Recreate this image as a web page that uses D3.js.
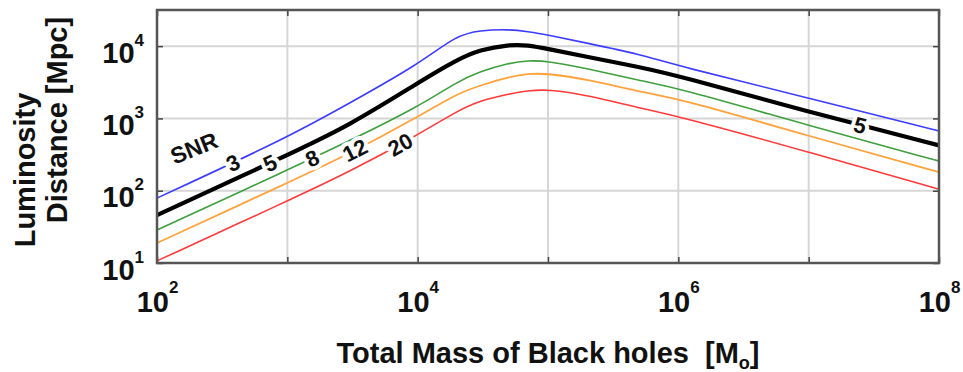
<!DOCTYPE html>
<html>
<head>
<meta charset="utf-8">
<script src="https://cdn.jsdelivr.net/npm/d3@7"></script>
<style>
  body { margin: 0; background: #fff; }
  svg text { font-family: "Liberation Sans", Arial, Helvetica, sans-serif; font-weight: bold; }
</style>
</head>
<body>
<div id="chart"></div>
<script>
// Total mass of the black holes [Msun]
const masses = [1e2, 1e3, 3e3, 1e4, 2e4, 3e4, 5e4, 7e4, 1e5, 2e5, 5e5, 1e6, 1e7, 1e8];

// Luminosity distance [Mpc] for each SNR curve
const snr3  = [79, 540, 1630, 5500, 14300, 16500, 17100, 15900, 14250, 11000, 7780, 5300, 1915, 669];
const snr5  = [46, 310, 800, 3090, 6500, 8900, 10500, 10350, 9120, 7130, 5140, 3900, 1225, 424];
const snr8  = [28.6, 193, 490, 1440, 3200, 4450, 5840, 6320, 6220, 4930, 3340, 2630, 798, 257];
const snr12 = [18.9, 128, 325, 1045, 2200, 2850, 3740, 4180, 4180, 3470, 2340, 1900, 571, 181];
const snr20 = [10.7, 72, 183, 589, 1260, 1760, 2175, 2430, 2525, 2110, 1393, 1079, 343, 105];

const snrLevels = [3, 5, 8, 12, 20];
const seriesValues = [snr3, snr5, snr8, snr12, snr20];

// inline labels: which curve, and the mass where the label sits
const labelSnr   = [3, 5, 8, 12, 20, 5];
const labelMass  = [383, 736, 1550, 3300, 7330, 2.48e7];

const xTicks = [1e2, 1e3, 1e4, 1e5, 1e6, 1e7, 1e8];
const yTicks = [1e1, 1e2, 1e3, 1e4];
const xLabelTicks = [1e2, 1e4, 1e6, 1e8];

const W = 963, H = 372;
const margin = { top: 10, right: 24, bottom: 109, left: 157 };

const colors = { 3: "#3c3cff", 5: "#000000", 8: "#3f9f3f", 12: "#ffa23c", 20: "#ff3a3a" };
const widths = { 3: 1.6, 5: 4.2, 8: 1.6, 12: 1.8, 20: 1.6 };

const svg = d3.select("#chart").append("svg")
    .attr("width", W)
    .attr("height", H);

const x = d3.scaleLog()
    .domain([1e2, 1e8])
    .range([margin.left, W - margin.right]);

const y = d3.scaleLog()
    .domain([10, Math.pow(10, 4.5)])
    .range([H - margin.bottom, margin.top]);

const x0 = x.range()[0], x1 = x.range()[1];
const y0 = y.range()[0], y1 = y.range()[1];

// grid
svg.append("g")
    .selectAll("line")
    .data(xTicks)
    .enter().append("line")
    .attr("x1", d => x(d)).attr("x2", d => x(d))
    .attr("y1", y1).attr("y2", y0)
    .attr("stroke", "#d6d6d6")
    .attr("stroke-width", 2);

svg.append("g")
    .selectAll("line")
    .data(yTicks)
    .enter().append("line")
    .attr("x1", x0).attr("x2", x1)
    .attr("y1", d => y(d)).attr("y2", d => y(d))
    .attr("stroke", "#d6d6d6")
    .attr("stroke-width", 2);

// curves
const line = d3.line()
    .x(d => x(d[0]))
    .y(d => y(d[1]))
    .curve(d3.curveBasis);

const curves = snrLevels.map((s, i) => ({ snr: s, pts: masses.map((m, j) => [m, seriesValues[i][j]]) }));

svg.append("g")
    .selectAll("path")
    .data(curves)
    .enter().append("path")
    .attr("d", d => line(d.pts))
    .attr("fill", "none")
    .attr("stroke", d => colors[d.snr])
    .attr("stroke-width", d => widths[d.snr])
    .attr("stroke-linejoin", "round");

// axes (inward ticks on all four sides)
const tickCol = "#444";
function styleAxis(g) {
    g.select(".domain").remove();
    g.selectAll(".tick line").attr("stroke", tickCol).attr("stroke-width", 1.5);
}

const xAxis = svg.append("g")
    .attr("transform", `translate(0,${y0})`)
    .call(d3.axisBottom(x).tickValues(xTicks).tickSize(-6).tickFormat(() => ""))
    .call(styleAxis);

svg.append("g")
    .attr("transform", `translate(0,${y1})`)
    .call(d3.axisTop(x).tickValues(xTicks).tickSize(-6).tickFormat(() => ""))
    .call(styleAxis);

const yAxis = svg.append("g")
    .attr("transform", `translate(${x0},0)`)
    .call(d3.axisLeft(y).tickValues(yTicks).tickSize(-6).tickFormat(() => ""))
    .call(styleAxis);

svg.append("g")
    .attr("transform", `translate(${x1},0)`)
    .call(d3.axisRight(y).tickValues(yTicks).tickSize(-6).tickFormat(() => ""))
    .call(styleAxis);

// power-of-ten tick labels
xAxis.selectAll(".tick")
    .filter(d => xLabelTicks.includes(d))
    .select("text")
    .attr("y", 49).attr("dy", null)
    .attr("fill", "#111")
    .attr("font-size", 29)
    .attr("text-anchor", "middle")
    .each(function(d) {
        const t = d3.select(this);
        t.append("tspan").text("10");
        t.append("tspan").attr("dy", -19).attr("font-size", 17).text(Math.round(Math.log10(d)));
    });

yAxis.selectAll(".tick text")
    .attr("x", -13).attr("dy", null).attr("y", 16)
    .attr("fill", "#111")
    .attr("font-size", 29)
    .attr("text-anchor", "end")
    .each(function(d) {
        const t = d3.select(this);
        t.append("tspan").text("10");
        t.append("tspan").attr("dy", -17).attr("font-size", 17).text(Math.round(Math.log10(d)));
    });

// box
svg.append("rect")
    .attr("x", x0).attr("y", y1)
    .attr("width", x1 - x0).attr("height", y0 - y1)
    .attr("fill", "none")
    .attr("stroke", "#555")
    .attr("stroke-width", 2.5);

// inline curve labels, sitting on the drawn path
const paths = svg.selectAll("path").filter(d => d && d.snr !== undefined).nodes();
function placeOn(snr, m) {
    const node = paths[snrLevels.indexOf(snr)];
    const target = x(m);
    const len = node.getTotalLength();
    let lo = 0, hi = len;
    for (let k = 0; k < 40; k++) {
        const mid = (lo + hi) / 2;
        if (node.getPointAtLength(mid).x < target) lo = mid; else hi = mid;
    }
    const p = node.getPointAtLength(lo);
    const pa = node.getPointAtLength(Math.max(0, lo - 10));
    const pb = node.getPointAtLength(Math.min(len, lo + 10));
    const ang = Math.atan2(pb.y - pa.y, pb.x - pa.x) * 180 / Math.PI;
    return { px: p.x, py: p.y, ang };
}

const labels = labelSnr.map((s, i) => Object.assign({ snr: s }, placeOn(s, labelMass[i])));

svg.append("g")
    .selectAll("text")
    .data(labels)
    .enter().append("text")
    .attr("transform", d => `translate(${d.px},${d.py}) rotate(${d.ang})`)
    .attr("text-anchor", "middle")
    .attr("dy", "0.36em")
    .attr("font-size", 22)
    .attr("fill", "#111")
    .attr("stroke", "#fff")
    .attr("stroke-width", 8)
    .attr("stroke-linejoin", "round")
    .attr("paint-order", "stroke")
    .text(d => d.snr);

svg.append("text")
    .attr("transform", "translate(194,148) rotate(-22)")
    .attr("text-anchor", "middle")
    .attr("dy", "0.36em")
    .attr("font-size", 23)
    .attr("fill", "#111")
    .text("SNR");

// axis titles
const xt = svg.append("text")
    .attr("x", 548).attr("y", 363)
    .attr("text-anchor", "middle")
    .attr("font-size", 29)
    .attr("fill", "#111")
    .style("white-space", "pre");
xt.append("tspan").text("Total Mass of Black holes  [M");
xt.append("tspan").attr("dy", 6).attr("font-size", 18).text("o");
xt.append("tspan").attr("dy", -6).text("]");

svg.append("text")
    .attr("transform", "translate(35,170) rotate(-90)")
    .attr("text-anchor", "middle")
    .attr("font-size", 29)
    .attr("fill", "#111")
    .text("Luminosity");

svg.append("text")
    .attr("transform", "translate(67,120) rotate(-90)")
    .attr("text-anchor", "middle")
    .attr("font-size", 29)
    .attr("fill", "#111")
    .text("Distance [Mpc]");
</script>
</body>
</html>
